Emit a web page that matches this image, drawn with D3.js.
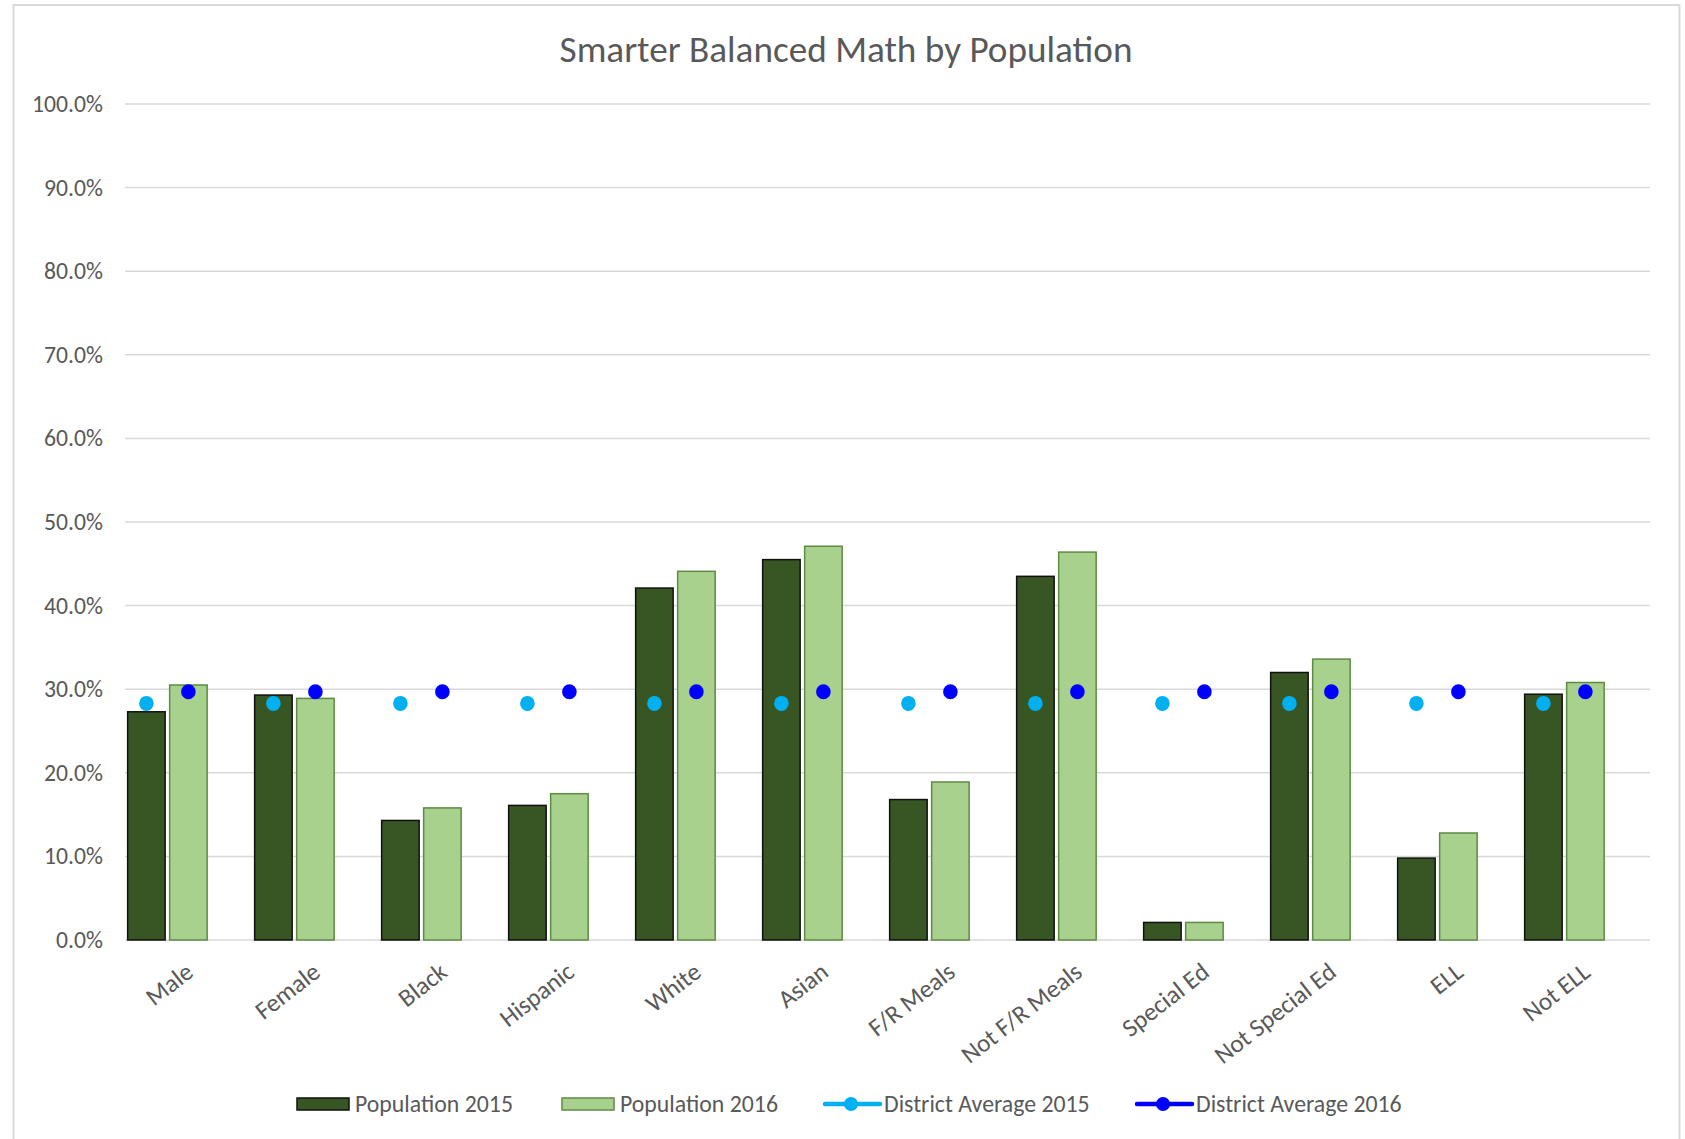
<!DOCTYPE html>
<html>
<head>
<meta charset="utf-8">
<script src="https://cdn.jsdelivr.net/npm/d3@7"></script>
<style>
  html, body { margin: 0; padding: 0; background: #ffffff; }
  svg { display: block; }
  text { font-family: Carlito, Lato, "Open Sans", sans-serif; fill: #595959; }
</style>
</head>
<body>
<svg id="chart" width="1685" height="1139"></svg>
<script>
// ---------- data ----------
const categories = ["Male", "Female", "Black", "Hispanic", "White", "Asian",
  "F/R Meals", "Not F/R Meals", "Special Ed", "Not Special Ed", "ELL", "Not ELL"];
const population2015 = [27.3, 29.3, 14.3, 16.1, 42.1, 45.5, 16.8, 43.5, 2.1, 32.0, 9.8, 29.4];
const population2016 = [30.5, 28.9, 15.8, 17.5, 44.1, 47.1, 18.9, 46.4, 2.1, 33.6, 12.8, 30.8];
const districtAvg2015 = [28.3, 28.3, 28.3, 28.3, 28.3, 28.3, 28.3, 28.3, 28.3, 28.3, 28.3, 28.3];
const districtAvg2016 = [29.7, 29.7, 29.7, 29.7, 29.7, 29.7, 29.7, 29.7, 29.7, 29.7, 29.7, 29.7];
const yTicks = [0, 10, 20, 30, 40, 50, 60, 70, 80, 90, 100];
const barSeries = ["Population 2015", "Population 2016"];
const dotSeries = ["District Average 2015", "District Average 2016"];
const chartTitle = "Smarter Balanced Math by Population";

// ---------- layout ----------
const svg = d3.select("#chart");
const plotTop = 104, plotBottom = 940;
const gridLeft = 125, gridRight = 1650;

const barFill = { "Population 2015": "#375623", "Population 2016": "#A9D18E" };
const barStroke = { "Population 2015": "#111111", "Population 2016": "#5E8A44" };
const dotColor = { "District Average 2015": "#00B0F0", "District Average 2016": "#0000FF" };

// font fitting helper (match Calibri-like widths with available fonts)
function fitSize(sample, target, base) {
  const t = svg.append("text").attr("font-size", base).text(sample);
  const w = t.node().getComputedTextLength();
  t.remove();
  return base * target / w;
}
const titleSize = fitSize(chartTitle, 573, 36);
const legendSize = fitSize("Population 2015", 158, 24);
const yLabelSize = fitSize("100.0%", 71, 24);
const catSize = fitSize("Not Special Ed", 146, 24);

// border
svg.append("rect")
  .attr("x", 13.5).attr("y", 5).attr("width", 1666).attr("height", 1160)
  .attr("fill", "none").attr("stroke", "#d9d9d9").attr("stroke-width", 2);

// title
svg.append("text")
  .attr("x", 846).attr("y", 62)
  .attr("text-anchor", "middle")
  .attr("font-size", titleSize)
  .text(chartTitle);

// scales
const y = d3.scaleLinear().domain([0, 100]).range([plotBottom, plotTop]);
const x0 = d3.scaleBand().domain(categories).range([103.9, 1627.9])
  .paddingInner(0.374).paddingOuter(0.187);
const x1 = d3.scaleBand().domain(barSeries).range([0, x0.bandwidth()]).paddingInner(0.107);

// gridlines
svg.append("g").selectAll("line").data(yTicks).join("line")
  .attr("x1", gridLeft).attr("x2", gridRight)
  .attr("y1", d => y(d)).attr("y2", d => y(d))
  .attr("stroke", "#d9d9d9").attr("stroke-width", 1.5);

// y axis labels via d3 axis
const yAxis = d3.axisLeft(y).tickValues(yTicks).tickSize(0).tickPadding(0)
  .tickFormat(d => d3.format(".1f")(d) + "%");
const gy = svg.append("g").attr("transform", "translate(103,0)").call(yAxis);
gy.select(".domain").remove();
gy.selectAll("text")
  .attr("font-size", yLabelSize)
  .attr("font-family", null)
  .style("fill", "#595959");

// bars
const rows = categories.map((c, i) => ({
  cat: c,
  vals: [
    { s: "Population 2015", v: population2015[i] },
    { s: "Population 2016", v: population2016[i] }
  ]
}));
const groups = svg.append("g").selectAll("g").data(rows).join("g")
  .attr("transform", d => `translate(${x0(d.cat)},0)`);
groups.selectAll("rect").data(d => d.vals).join("rect")
  .attr("x", d => x1(d.s))
  .attr("width", x1.bandwidth())
  .attr("y", d => y(d.v))
  .attr("height", d => y(0) - y(d.v))
  .attr("fill", d => barFill[d.s])
  .attr("stroke", d => barStroke[d.s])
  .attr("stroke-width", 1.5);

// district average markers (no connecting line), centred on bars
const dotData = [];
categories.forEach((c, i) => {
  dotData.push({ cat: c, s: "District Average 2015", bar: "Population 2015", v: districtAvg2015[i] });
  dotData.push({ cat: c, s: "District Average 2016", bar: "Population 2016", v: districtAvg2016[i] });
});
svg.append("g").selectAll("ellipse").data(dotData).join("ellipse")
  .attr("cx", d => x0(d.cat) + x1(d.bar) + x1.bandwidth() / 2)
  .attr("cy", d => y(d.v))
  .attr("rx", 7.3).attr("ry", 7.5)
  .attr("fill", d => dotColor[d.s]);

// category labels
svg.append("g").selectAll("text").data(categories).join("text")
  .attr("text-anchor", "end")
  .attr("font-size", catSize)
  .attr("transform", d => {
    const cx = x0(d) + x0.bandwidth() / 2 + 22;
    return `translate(${cx},968) rotate(-38)`;
  })
  .attr("dy", "0.35em")
  .text(d => d);

// legend
const legY = 1104;
const lg = svg.append("g");
const legBars = [
  { s: "Population 2015", x: 297 },
  { s: "Population 2016", x: 562 }
];
legBars.forEach(l => {
  lg.append("rect").attr("x", l.x).attr("y", legY - 6).attr("width", 52).attr("height", 12)
    .attr("fill", barFill[l.s]).attr("stroke", barStroke[l.s]).attr("stroke-width", 1.5);
  lg.append("text").attr("x", l.x + 58).attr("y", legY).attr("dy", "0.35em")
    .attr("font-size", legendSize).text(l.s);
});
const legDots = [
  { s: "District Average 2015", x: 825 },
  { s: "District Average 2016", x: 1137 }
];
legDots.forEach(l => {
  lg.append("line").attr("x1", l.x).attr("x2", l.x + 55).attr("y1", legY).attr("y2", legY)
    .attr("stroke", dotColor[l.s]).attr("stroke-width", 4.5).attr("stroke-linecap", "round");
  lg.append("circle").attr("cx", l.x + 26).attr("cy", legY).attr("r", 7).attr("fill", dotColor[l.s]);
  lg.append("text").attr("x", l.x + 59).attr("y", legY).attr("dy", "0.35em")
    .attr("font-size", legendSize).text(l.s);
});
</script>
</body>
</html>
